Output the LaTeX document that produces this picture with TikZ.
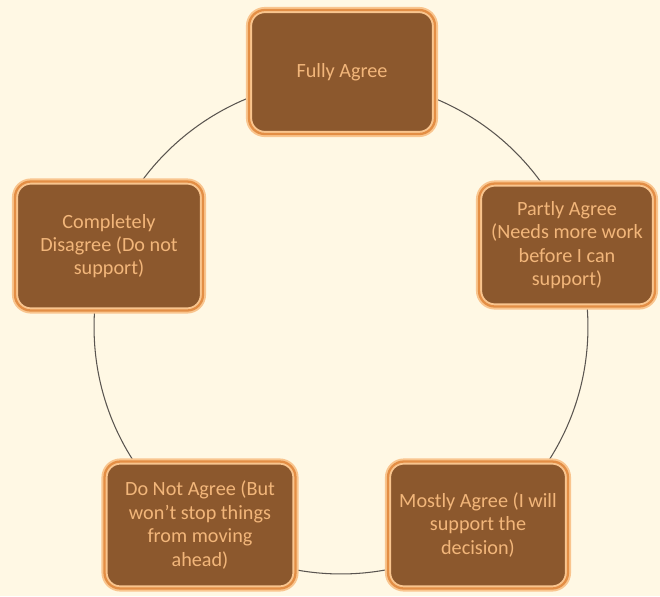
\documentclass[tikz,border=0pt]{standalone}
\usepackage{fontspec}
\setmainfont{Carlito}
\usepackage{tikz}

\definecolor{bgcream}{HTML}{FFF8E4}
\definecolor{boxbrown}{HTML}{8C582D}
\definecolor{rimpeach}{HTML}{F9C58E}
\definecolor{rimorange}{HTML}{E38E45}
\definecolor{txtorange}{HTML}{F2B67A}
\definecolor{ringgray}{HTML}{5A5550}

\begin{document}
\begin{tikzpicture}[x=0.02cm,y=-0.02cm,
    vote_node/.style={rectangle,rounded corners=9pt,fill=boxbrown,draw=rimpeach,double=rimorange,
        line width=1.1pt,double distance=1.3pt,text=txtorange,align=center,
        font=\fontsize{11.5}{13.3}\selectfont,inner sep=2pt},
    ring/.style={draw=ringgray,line width=0.6pt}]
	    \useasboundingbox[fill=bgcream] (0,0) rectangle (660,596);
	    \coordinate (c) at (341,327);
	    \draw[ring] (c) circle[radius=4.94cm];

	    \node[vote_node,minimum width=3.72cm,minimum height=2.48cm] (1) at (342,72) {Fully Agree};
	    \node[vote_node,minimum width=3.52cm,minimum height=2.46cm] (2) at (567,245) {Partly Agree\\(Needs more work\\before I can\\support)};
	    \node[vote_node,minimum width=3.6cm,minimum height=2.54cm] (3) at (478,525) {Mostly Agree (I will\\support the\\decision)};
	    \node[vote_node,minimum width=3.82cm,minimum height=2.54cm] (4) at (200,525) {Do Not Agree (But\\won't stop things\\from moving\\ahead)};
	    \node[vote_node,minimum width=3.76cm,minimum height=2.58cm] (5) at (109,246) {Completely\\Disagree (Do not\\support)};
\end{tikzpicture}
\end{document}
